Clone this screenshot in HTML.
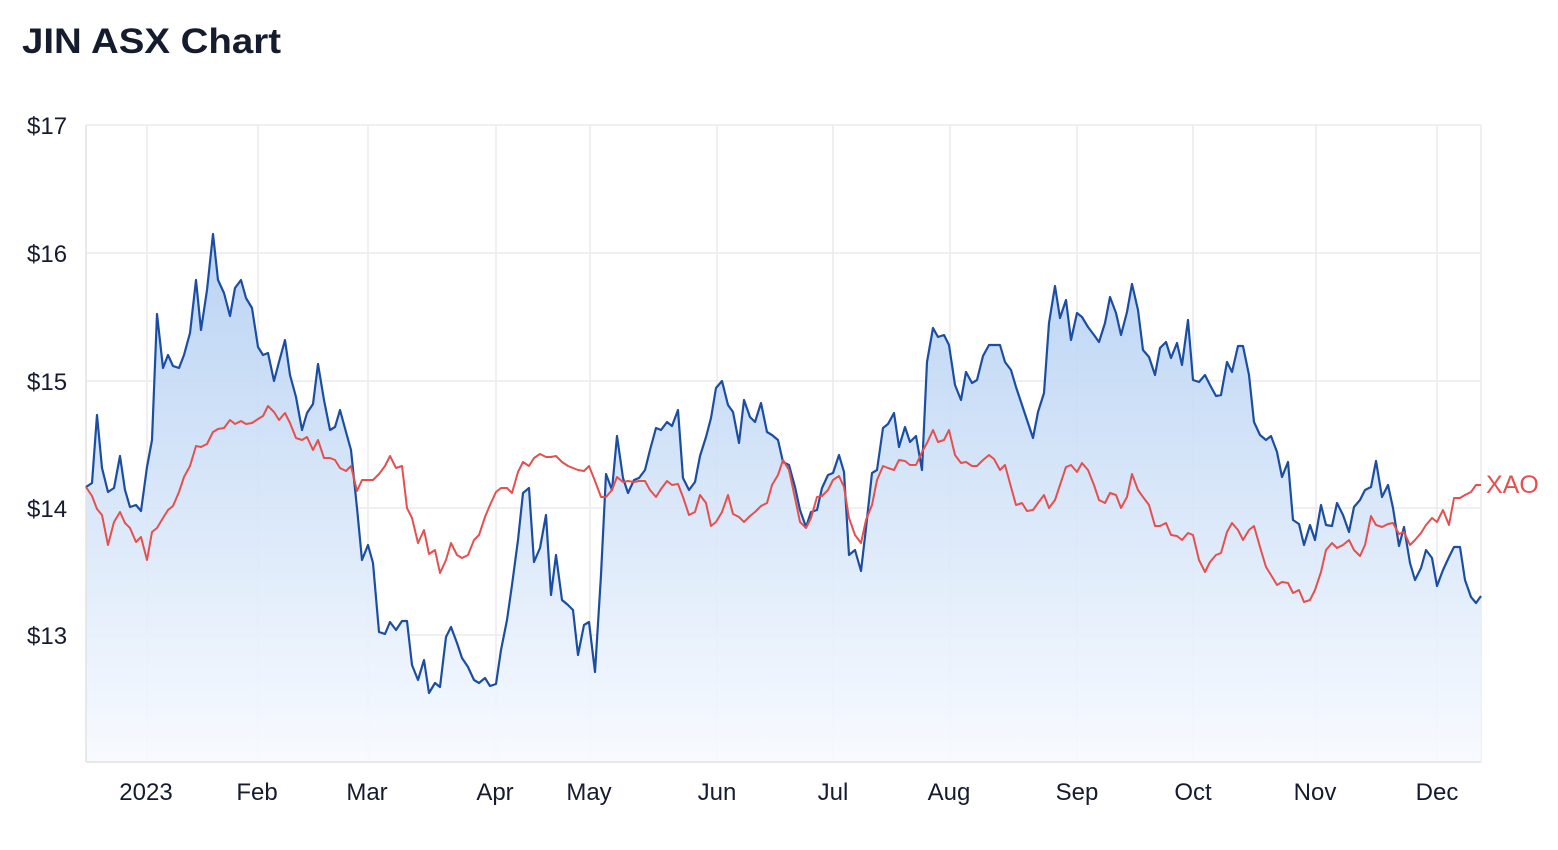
<!DOCTYPE html>
<html><head><meta charset="utf-8"><style>
html,body{margin:0;padding:0;background:#fff;width:1558px;height:850px;overflow:hidden}
svg text{font-family:"Liberation Sans",Arial,sans-serif}
</style></head><body>
<svg width="1558" height="850" viewBox="0 0 1558 850" xmlns="http://www.w3.org/2000/svg">
<defs><linearGradient id="g" gradientUnits="userSpaceOnUse" x1="0" y1="240" x2="0" y2="762"><stop offset="0" stop-color="#b3cff2"/><stop offset="1" stop-color="#f7faff"/></linearGradient></defs>
<text x="22" y="53" font-size="35" font-weight="bold" fill="#141c2e" textLength="259" lengthAdjust="spacingAndGlyphs">JIN ASX Chart</text>
<g stroke="#ececec" stroke-width="1.5">
<line x1="86" y1="125" x2="1481" y2="125"/><line x1="86" y1="253" x2="1481" y2="253"/><line x1="86" y1="381" x2="1481" y2="381"/><line x1="86" y1="508" x2="1481" y2="508"/><line x1="86" y1="635" x2="1481" y2="635"/>
<line x1="147" y1="125" x2="147" y2="762"/><line x1="258" y1="125" x2="258" y2="762"/><line x1="368" y1="125" x2="368" y2="762"/><line x1="496" y1="125" x2="496" y2="762"/><line x1="590" y1="125" x2="590" y2="762"/><line x1="717" y1="125" x2="717" y2="762"/><line x1="833" y1="125" x2="833" y2="762"/><line x1="950" y1="125" x2="950" y2="762"/><line x1="1077" y1="125" x2="1077" y2="762"/><line x1="1193" y1="125" x2="1193" y2="762"/><line x1="1316" y1="125" x2="1316" y2="762"/><line x1="1437" y1="125" x2="1437" y2="762"/><line x1="1481" y1="125" x2="1481" y2="762"/>
</g>
<polygon id="area" fill="url(#g)" fill-opacity="0.9" points=""/>
<line x1="86" y1="125" x2="86" y2="762" stroke="#e2e2e2" stroke-width="1.5"/>
<line x1="86" y1="762" x2="1481" y2="762" stroke="#e2e2e2" stroke-width="1.5"/>
<polyline id="blue" fill="none" stroke="#1b4ea3" stroke-width="2.2" stroke-linejoin="round" points="86,487 92,483 97,415 102,468 108,492 114,488 120,456 125,490 130,507 136,505 141,511 147,467 152,440 157,314 163,368 168,355 173,366 179,368 184,355 190,333 196,280 201,330 207,290 213,234 218,280 224,293 230,316 235,288 241,280 246,298 252,308 258,347 263,355 268,353 274,381 279,362 285,340 290,375 296,397 302,430 307,413 313,404 318,364 324,400 330,430 335,427 340,410 346,432 351,450 357,508 362,560 368,545 373,563 379,632 385,634 390,622 396,630 402,621 407,621 412,665 418,680 424,660 429,693 435,683 440,687 446,637 451,627 457,643 462,658 468,667 474,680 479,683 485,678 490,686 496,684 501,650 507,620 512,585 518,540 523,493 529,488 534,562 540,548 546,515 551,595 556,555 562,600 568,605 573,610 578,655 584,625 589,622 595,672 601,575 606,474 612,490 617,436 623,478 628,493 634,480 639,478 645,470 650,450 656,428 661,430 667,422 672,426 678,410 683,478 689,490 695,482 700,456 706,437 711,418 716,388 722,381 728,405 733,412 739,443 744,400 750,417 755,422 761,403 767,432 772,435 778,440 783,462 789,465 795,487 800,510 806,527 811,512 817,510 822,488 828,475 833,473 839,455 844,472 849,555 855,550 861,571 866,528 872,473 877,470 883,428 888,424 894,413 899,447 905,427 910,442 916,436 922,470 927,362 933,328 938,337 944,335 949,345 955,385 961,400 966,372 972,383 977,380 983,356 989,345 994,345 1000,345 1005,362 1011,370 1016,387 1022,405 1027,420 1033,438 1038,412 1044,393 1049,323 1055,286 1060,318 1066,300 1071,340 1077,313 1082,317 1088,327 1094,335 1099,342 1105,323 1110,297 1116,313 1121,335 1127,312 1132,284 1138,310 1143,350 1149,357 1155,375 1160,348 1166,342 1171,358 1177,343 1182,365 1188,320 1193,380 1199,382 1205,375 1210,385 1216,396 1221,395 1227,362 1232,372 1238,346 1243,346 1249,375 1254,422 1260,435 1266,440 1271,436 1277,452 1282,477 1288,462 1293,520 1299,524 1304,545 1310,525 1315,540 1321,505 1326,525 1332,526 1337,503 1343,515 1349,532 1354,507 1360,500 1365,490 1371,487 1376,461 1382,497 1388,485 1393,508 1399,546 1404,527 1410,563 1415,580 1421,568 1426,550 1432,558 1437,586 1443,570 1449,557 1454,547 1460,547 1465,580 1471,597 1476,603 1481,596"/>
<polyline fill="none" stroke="#e5504f" stroke-width="2" stroke-linejoin="round" points="86,487 92,496 97,509 102,515 108,545 114,522 120,512 125,523 130,528 136,542 141,537 147,560 152,532 157,528 163,518 168,510 173,506 179,492 184,477 190,466 196,446 201,447 207,444 213,432 218,429 224,428 230,420 235,424 241,421 246,424 252,423 258,419 263,416 268,406 274,412 279,420 285,413 290,423 296,438 302,440 307,437 313,450 318,440 324,458 330,458 335,460 340,468 346,471 351,466 357,491 362,480 368,480 373,480 379,474 385,466 390,456 396,468 402,466 407,508 412,518 418,543 424,530 429,554 435,550 440,573 446,560 451,543 457,555 462,558 468,555 474,540 479,535 485,517 490,505 496,492 501,488 507,488 512,493 518,472 523,462 529,466 534,458 540,454 546,457 551,457 556,456 562,462 568,466 573,468 578,470 584,471 589,466 595,481 601,497 606,497 612,490 617,477 623,482 628,481 634,482 639,481 645,481 650,490 656,497 661,489 667,481 672,485 678,484 683,497 689,515 695,512 700,495 706,503 711,526 716,522 722,512 728,495 733,514 739,517 744,522 750,516 755,512 761,506 767,503 772,485 778,475 783,460 789,470 795,498 800,522 806,528 811,518 817,497 822,496 828,490 833,480 839,476 844,487 849,518 855,535 861,543 866,520 872,505 877,480 883,466 888,468 894,470 899,460 905,461 910,465 916,465 922,452 927,443 933,430 938,442 944,440 949,430 955,455 961,463 966,462 972,466 977,466 983,460 989,455 994,459 1000,470 1005,465 1011,487 1016,505 1022,503 1027,511 1033,510 1038,503 1044,495 1049,508 1055,500 1060,485 1066,467 1071,465 1077,472 1082,463 1088,470 1094,485 1099,500 1105,503 1110,493 1116,495 1121,508 1127,497 1132,474 1138,490 1143,497 1149,505 1155,526 1160,526 1166,523 1171,535 1177,536 1182,540 1188,533 1193,535 1199,560 1205,572 1210,562 1216,555 1221,553 1227,532 1232,523 1238,530 1243,540 1249,530 1254,526 1260,547 1266,567 1271,575 1277,585 1282,582 1288,583 1293,593 1299,590 1304,602 1310,600 1315,590 1321,572 1326,550 1332,543 1337,548 1343,545 1349,540 1354,550 1360,556 1365,545 1371,516 1376,525 1382,527 1388,524 1393,523 1399,534 1404,532 1410,545 1415,540 1421,533 1426,525 1432,518 1437,522 1443,510 1449,525 1454,498 1460,498 1465,495 1471,492 1476,485 1481,485"/>
<g font-size="24" fill="#141c2e">
<text x="27" y="134">$17</text><text x="27" y="262">$16</text><text x="27" y="390">$15</text><text x="27" y="517">$14</text><text x="27" y="644">$13</text>
</g>
<g font-size="24" fill="#141c2e" text-anchor="middle">
<text x="146" y="800">2023</text><text x="257" y="800">Feb</text><text x="367" y="800">Mar</text><text x="495" y="800">Apr</text><text x="589" y="800">May</text><text x="717" y="800">Jun</text><text x="833" y="800">Jul</text><text x="949" y="800">Aug</text><text x="1077" y="800">Sep</text><text x="1193" y="800">Oct</text><text x="1315" y="800">Nov</text><text x="1437" y="800">Dec</text>
</g>
<text x="1486" y="493" font-size="25" fill="#e5504f">XAO</text>
</svg>
<script>
var p=document.getElementById('blue').getAttribute('points');
document.getElementById('area').setAttribute('points',p+' 1481,762 86,762');
</script>
</body></html>
